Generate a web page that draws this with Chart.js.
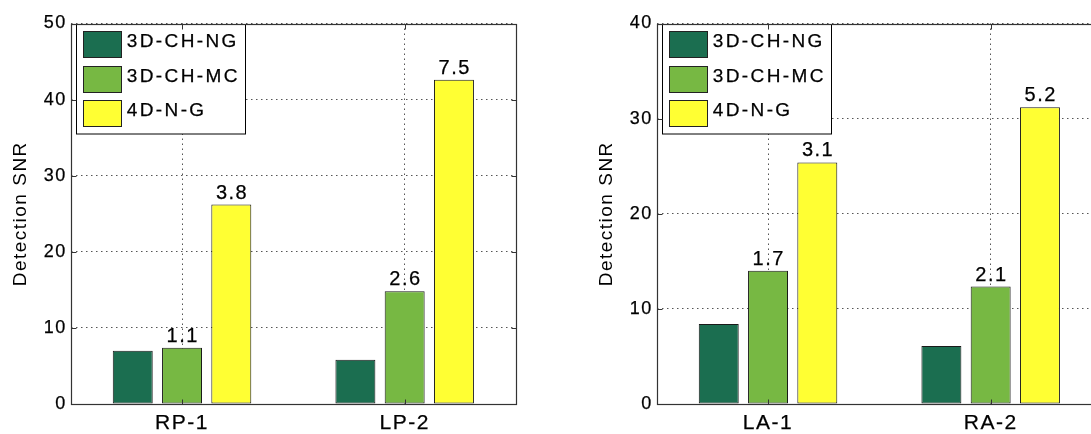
<!DOCTYPE html>
<html><head><meta charset="utf-8">
<script src="https://cdn.jsdelivr.net/npm/chart.js@4.4.1/dist/chart.umd.min.js"></script>
<style>
html,body{margin:0;padding:0;background:#fff;overflow:hidden;width:1091px;height:434px;position:relative;}
.box{position:absolute;top:0;width:600px;height:434px;}
#w1{left:0;} #w2{left:586px;}
</style></head><body>
<div class="box" id="w1"><canvas id="c1"></canvas></div>
<div class="box" id="w2"><canvas id="c2"></canvas></div>
<script>
const seriesNames = ['3D-CH-NG', '3D-CH-MC', '4D-N-G'];
const seriesColors = ['#1b6e50', '#77b843', '#ffff33'];

const leftCategories = ['RP-1', 'LP-2'];
const left3DCHNG = [7.0, 5.8];
const left3DCHMC = [7.4, 14.8];
const left4DNG = [26.2, 42.6];
const leftLabelsMC = ['1.1', '2.6'];
const leftLabels4D = ['3.8', '7.5'];
const leftTicks = [0, 10, 20, 30, 40, 50];

const rightCategories = ['LA-1', 'RA-2'];
const right3DCHNG = [8.4, 6.1];
const right3DCHMC = [14.0, 12.35];
const right4DNG = [25.4, 31.2];
const rightLabelsMC = ['1.7', '2.1'];
const rightLabels4D = ['3.1', '5.2'];
const rightTicks = [0, 10, 20, 30, 40];

const FONT = "'Liberation Sans', Arial, Helvetica, sans-serif";
const SPACING = '1.5px';
const STROKE = 0.25;

function heavyText(ctx, text, x, y) {
  ctx.lineWidth = STROKE;
  ctx.strokeStyle = '#000';
  ctx.strokeText(text, x, y);
  ctx.fillText(text, x, y);
}

function decor(valueLabels) {
  return {
    id: 'decor',
    beforeUpdate(chart) { chart.ctx.letterSpacing = SPACING; },
    beforeLayout(chart) { chart.ctx.letterSpacing = SPACING; },
    beforeDraw(chart) { chart.ctx.letterSpacing = SPACING; },
    afterDatasetsDraw(chart) {
      const ctx = chart.ctx, a = chart.chartArea;
      // value labels above bars
      ctx.save();
      ctx.font = '20px ' + FONT;
      ctx.fillStyle = '#000';
      ctx.textAlign = 'center';
      ctx.textBaseline = 'alphabetic';
      ctx.letterSpacing = '1.5px';
      valueLabels.forEach((labs, di) => {
        if (!labs) return;
        const meta = chart.getDatasetMeta(di);
        meta.data.forEach((bar, i) => { heavyText(ctx, labs[i], bar.x + 0.75, bar.y - 6); });
      });
      ctx.restore();

      // legend box
      ctx.save();
      const L = a.left, T = a.top;
      const bx = Math.round(L + 5.5) + 0.5, by = Math.round(T) + 0.5;
      ctx.fillStyle = '#fff';
      ctx.strokeStyle = '#000';
      ctx.lineWidth = 1;
      ctx.fillRect(bx, by, 169, 109.5);
      ctx.strokeRect(bx, by, 169, 109.5);
      ctx.font = '19px ' + FONT;
      ctx.letterSpacing = '2.4px';
      ctx.textAlign = 'left';
      ctx.textBaseline = 'alphabetic';
      chart.data.datasets.forEach((ds, i) => {
        const sy = Math.round(T + 7.5 + 34.7 * i) + 0.5;
        const sx = Math.round(L + 12.5) + 0.5;
        ctx.fillStyle = ds.backgroundColor;
        ctx.fillRect(sx, sy, 38, 26);
        ctx.lineWidth = 1;
        ctx.strokeStyle = '#222';
        ctx.strokeRect(sx, sy, 38, 26);
        ctx.fillStyle = '#000';
        heavyText(ctx, ds.label, L + 56, T + 23.3 + 34.7 * i);
      });
      ctx.restore();

      // axes frame and inward ticks
      ctx.save();
      ctx.strokeStyle = '#333';
      ctx.lineWidth = 1.2;
      const l = Math.round(a.left) + 0.5, r = Math.round(a.right) + 0.5;
      const t = Math.round(a.top) + 0.5, b = Math.round(a.bottom) + 0.5;
      ctx.strokeRect(l, t, r - l, b - t);
      ctx.lineWidth = 1;
      const ys = chart.scales.y, xs = chart.scales.x;
      ctx.beginPath();
      ys.ticks.forEach(tk => {
        const py = Math.round(ys.getPixelForValue(tk.value)) + 0.5;
        ctx.moveTo(l, py); ctx.lineTo(l + 5, py);
        ctx.moveTo(r - 5, py); ctx.lineTo(r, py);
      });
      xs.ticks.forEach((tk, i) => {
        const px = Math.round(xs.getPixelForTick(i)) + 0.5;
        ctx.moveTo(px, b); ctx.lineTo(px, b - 5);
        ctx.moveTo(px, t); ctx.lineTo(px, t + 5);
      });
      ctx.stroke();
      ctx.restore();
    }
  };
}

function makeChart(id, cats, d1, d2, d3, labMC, lab4D, ticks) {
  return new Chart(document.getElementById(id), {
    type: 'bar',
    data: {
      labels: cats,
      datasets: [d1, d2, d3].map((d, i) => ({
        label: seriesNames[i],
        data: d,
        backgroundColor: seriesColors[i],
        borderColor: '#1a1a1a',
        borderWidth: 1,
        borderSkipped: false,
        categoryPercentage: 0.664,
        barPercentage: 0.811
      }))
    },
    options: {
      responsive: true,
      maintainAspectRatio: false,
      animation: false,
      devicePixelRatio: 1,
      layout: { padding: { left: 0, right: 84, top: 23.5, bottom: 0 } },
      plugins: { legend: { display: false }, tooltip: { enabled: false } },
      scales: {
        x: {
          offset: true,
          ticks: { font: { family: FONT, size: 21 }, color: '#000', padding: 7, maxRotation: 0,
                   textStrokeColor: '#000', textStrokeWidth: STROKE },
          grid: { offset: false, color: '#555', lineWidth: 1, drawTicks: false },
          border: { display: false, dash: [1.5, 3.5] },
          afterFit(s) { s.height = 30; }
        },
        y: {
          min: ticks[0],
          max: ticks[ticks.length - 1],
          afterBuildTicks(s) { s.ticks = ticks.map(v => ({ value: v })); },
          ticks: { font: { family: FONT, size: 18 }, color: '#000', padding: 4,
                   textStrokeColor: '#000', textStrokeWidth: STROKE },
          grid: { color: '#555', lineWidth: 1, drawTicks: false },
          border: { display: false, dash: [1.5, 3.5] },
          title: { display: true, text: 'Detection SNR', color: '#000',
                   font: { family: FONT, size: 19 }, padding: { top: 9, bottom: 0 } },
          afterFit(s) { s.width = 70.7; }
        }
      }
    },
    plugins: [decor([null, labMC, lab4D])]
  });
}

makeChart('c1', leftCategories, left3DCHNG, left3DCHMC, left4DNG, leftLabelsMC, leftLabels4D, leftTicks);
makeChart('c2', rightCategories, right3DCHNG, right3DCHMC, right4DNG, rightLabelsMC, rightLabels4D, rightTicks);
</script>
</body></html>
